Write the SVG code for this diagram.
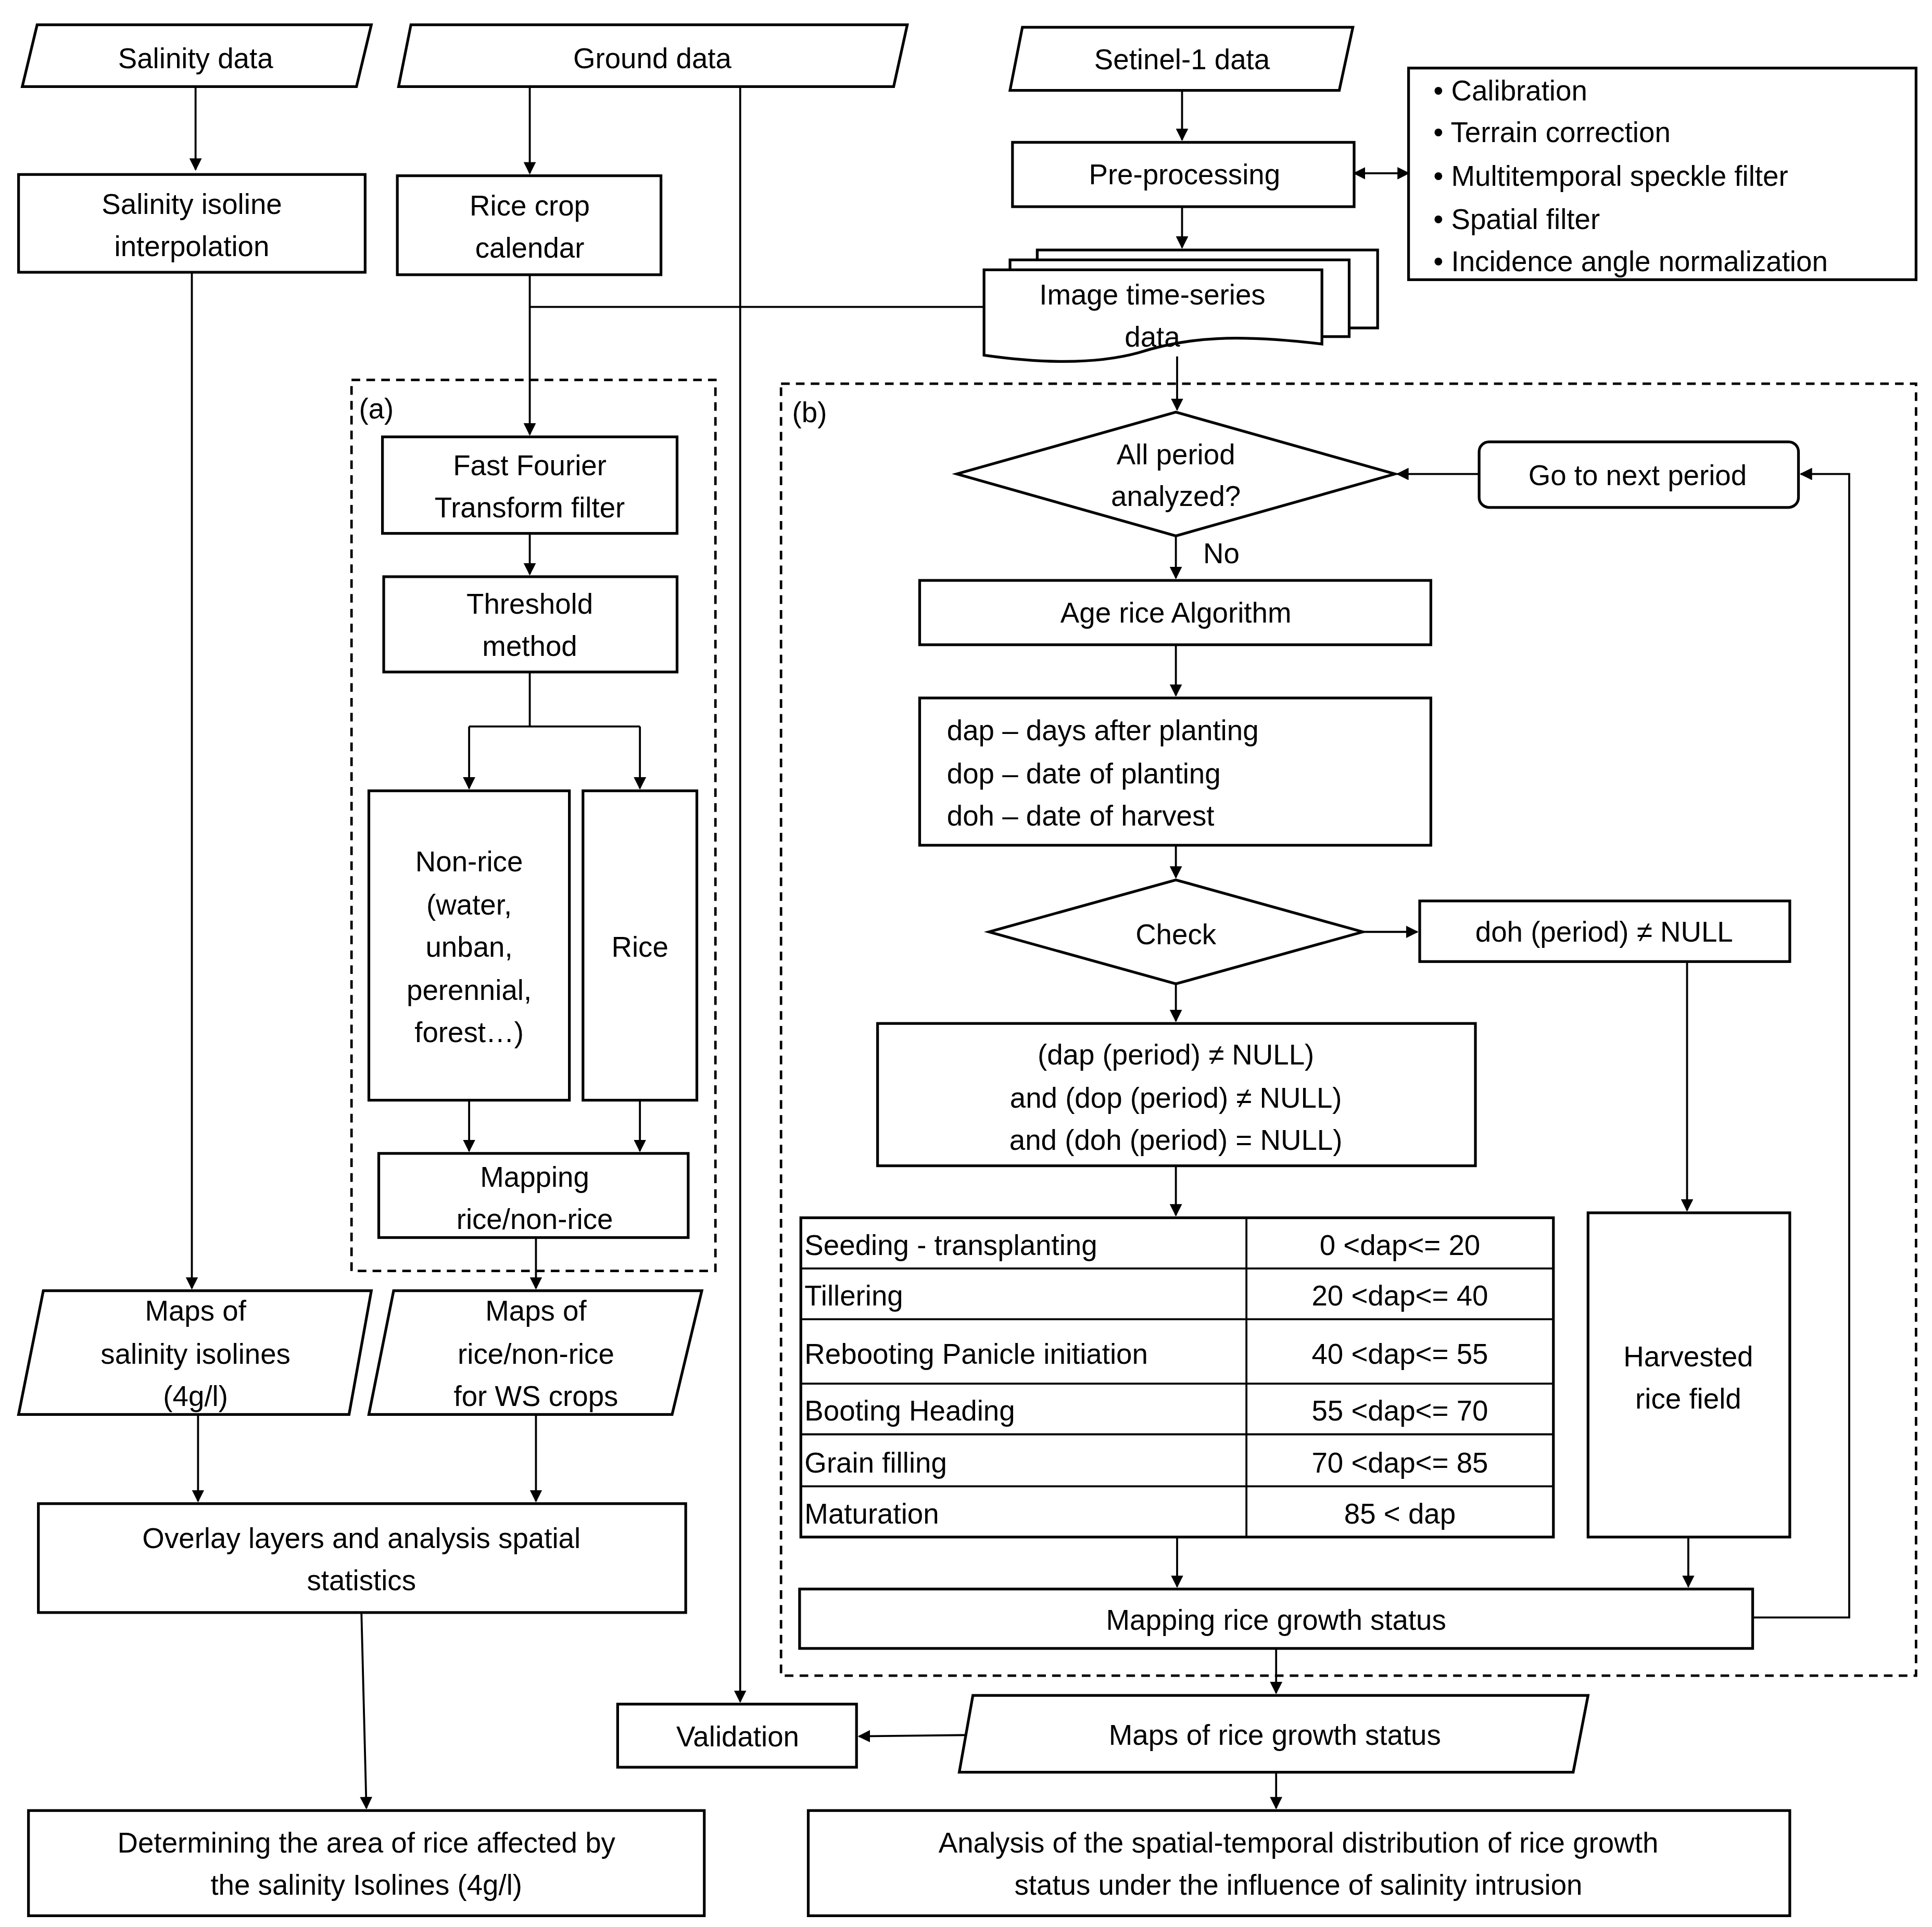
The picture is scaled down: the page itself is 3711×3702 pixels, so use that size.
<svg xmlns="http://www.w3.org/2000/svg" width="3711" height="3702" viewBox="0 0 3711 3702">
<defs>
<marker id="ah" markerWidth="10" markerHeight="10" refX="9" refY="5" orient="auto" markerUnits="userSpaceOnUse"><path d="M0,0 L10,5 L0,10 z" fill="#000"/></marker>
<marker id="ahs" markerWidth="10" markerHeight="10" refX="1" refY="5" orient="auto" markerUnits="userSpaceOnUse"><path d="M10,0 L0,5 L10,10 z" fill="#000"/></marker>
<style>
.s{fill:#fff;stroke:#000;stroke-width:2.2}
.d{fill:none;stroke:#000;stroke-width:2;stroke-dasharray:7,5}
.c{fill:none;stroke:#000;stroke-width:1.6}
.a{marker-end:url(#ah)}
text{font-family:"Liberation Sans",Arial,sans-serif;font-size:23px;fill:#000}
.m{text-anchor:middle}
</style>
</defs>
<rect width="3711" height="3702" fill="#fff"/>
<g transform="scale(2.3775)">
<g id="dashed">
<rect class="d" x="284" y="307" width="294" height="720"/><text x="290" y="338">(a)</text>
<rect class="d" x="631" y="310" width="917" height="1044"/><text x="640" y="341">(b)</text>
</g>
<g id="connectors">
<path class="c a" d="M158,70 V137"/>
<path class="c a" d="M428,70 V140"/>
<path class="c a" d="M598,70 V1375"/>
<path class="c a" d="M955,73 V113"/>
<path class="c" d="M1094,140 H1138" marker-start="url(#ahs)" marker-end="url(#ah)"/>
<path class="c a" d="M955,167 V200"/>
<path class="c" d="M428,248 H795"/>
<path class="c a" d="M428,222 V351"/>
<path class="c a" d="M428,431 V464"/>
<path class="c" d="M428,543 V587 M379,587 H517"/>
<path class="c a" d="M379,587 V637"/><path class="c a" d="M517,587 V637"/>
<path class="c a" d="M379,889 V930"/><path class="c a" d="M517,889 V930"/>
<path class="c a" d="M433,1000 V1041"/>
<path class="c a" d="M155,220 V1041"/>
<path class="c a" d="M160,1143 V1213"/><path class="c a" d="M433,1143 V1213"/>
<path class="c a" d="M292,1303 L296,1461"/>
<path class="c a" d="M951,288 V331"/>
<path class="c a" d="M1195,383 H1129"/>
<path class="c a" d="M1416,1307 H1494 V383 H1455"/>
<path class="c a" d="M950,433 V467"/>
<path class="c a" d="M950,521 V562"/>
<path class="c a" d="M950,683 V709"/>
<path class="c a" d="M1101,753 H1145"/>
<path class="c a" d="M1363,777 V978"/>
<path class="c a" d="M950,795 V825"/>
<path class="c a" d="M950,942 V982"/>
<path class="c a" d="M951,1242 V1282"/><path class="c a" d="M1364,1242 V1282"/>
<path class="c a" d="M1031,1332 V1368"/>
<path class="c a" d="M782,1402 L694,1403"/>
<path class="c a" d="M1031,1432 V1461"/>
</g>
<g id="salinity-data"><polygon class="s" points="30,20 300,20 288,70 18,70"/><text class="m" x="158" y="55">Salinity data</text></g>
<g id="ground-data"><polygon class="s" points="332,20 733,20 722,70 322,70"/><text class="m" x="527" y="55">Ground data</text></g>
<g id="sentinel"><polygon class="s" points="826,22 1093,22 1082,73 816,73"/><text class="m" x="955" y="56">Setinel-1 data</text></g>
<g id="bullets"><rect class="s" x="1138" y="55" width="410" height="171"/>
<text x="1158" y="81">• Calibration</text><text x="1158" y="115">• Terrain correction</text><text x="1158" y="150">• Multitemporal speckle filter</text><text x="1158" y="185">• Spatial filter</text><text x="1158" y="219">• Incidence angle normalization</text></g>
<g id="preprocessing"><rect class="s" x="818" y="115" width="276" height="52"/><text class="m" x="957" y="149">Pre-processing</text></g>
<g id="timeseries">
<rect class="s" x="838" y="202" width="275" height="63"/>
<rect class="s" x="816" y="210" width="274" height="62"/>
<path class="s" d="M795,218 H1068 V278 C1000,270 960,272 920,285 C880,296 830,292 795,287 Z"/>
<text class="m" x="931" y="246">Image time-series</text><text class="m" x="931" y="280">data</text></g>
<g id="isoline"><rect class="s" x="15" y="141" width="280" height="79"/><text class="m" x="155" y="173">Salinity isoline</text><text class="m" x="155" y="207">interpolation</text></g>
<g id="calendar"><rect class="s" x="321" y="142" width="213" height="80"/><text class="m" x="428" y="174">Rice crop</text><text class="m" x="428" y="208">calendar</text></g>
<g id="fft"><rect class="s" x="309" y="353" width="238" height="78"/><text class="m" x="428" y="384">Fast Fourier</text><text class="m" x="428" y="418">Transform filter</text></g>
<g id="threshold"><rect class="s" x="310" y="466" width="237" height="77"/><text class="m" x="428" y="496">Threshold</text><text class="m" x="428" y="530">method</text></g>
<g id="nonrice"><rect class="s" x="298" y="639" width="162" height="250"/>
<text class="m" x="379" y="704">Non-rice</text><text class="m" x="379" y="739">(water,</text><text class="m" x="379" y="773">unban,</text><text class="m" x="379" y="808">perennial,</text><text class="m" x="379" y="842">forest…)</text></g>
<g id="rice"><rect class="s" x="471" y="639" width="92" height="250"/><text class="m" x="517" y="773">Rice</text></g>
<g id="mapping-rn"><rect class="s" x="306" y="932" width="250" height="68"/><text class="m" x="432" y="959">Mapping</text><text class="m" x="432" y="993">rice/non-rice</text></g>
<g id="maps-sal"><polygon class="s" points="35,1043 300,1043 282,1143 15,1143"/><text class="m" x="158" y="1067">Maps of</text><text class="m" x="158" y="1102">salinity isolines</text><text class="m" x="158" y="1136">(4g/l)</text></g>
<g id="maps-rice"><polygon class="s" points="318,1043 567,1043 543,1143 298,1143"/><text class="m" x="433" y="1067">Maps of</text><text class="m" x="433" y="1102">rice/non-rice</text><text class="m" x="433" y="1136">for WS crops</text></g>
<g id="overlay"><rect class="s" x="31" y="1215" width="523" height="88"/><text class="m" x="292" y="1251">Overlay layers and analysis spatial</text><text class="m" x="292" y="1285">statistics</text></g>
<g id="determining"><rect class="s" x="23" y="1463" width="546" height="85"/><text class="m" x="296" y="1497">Determining the area of rice affected by</text><text class="m" x="296" y="1531">the salinity Isolines (4g/l)</text></g>
<g id="allperiod"><polygon class="s" points="773,383 950,333 1127,383 950,433"/><text class="m" x="950" y="375">All period</text><text class="m" x="950" y="409">analyzed?</text><text x="972" y="455">No</text></g>
<g id="nextperiod"><rect class="s" x="1195" y="357" width="258" height="53" rx="8"/><text class="m" x="1323" y="392">Go to next period</text></g>
<g id="age"><rect class="s" x="743" y="469" width="413" height="52"/><text class="m" x="950" y="503">Age rice Algorithm</text></g>
<g id="dap"><rect class="s" x="743" y="564" width="413" height="119"/><text x="765" y="598">dap – days after planting</text><text x="765" y="633">dop – date of planting</text><text x="765" y="667">doh – date of harvest</text></g>
<g id="check"><polygon class="s" points="799,753 950,711 1101,753 950,795"/><text class="m" x="950" y="763">Check</text></g>
<g id="doh"><rect class="s" x="1147" y="728" width="299" height="49"/><text class="m" x="1296" y="761">doh (period) ≠ NULL</text></g>
<g id="cond"><rect class="s" x="709" y="827" width="483" height="115"/><text class="m" x="950" y="860">(dap (period) ≠ NULL)</text><text class="m" x="950" y="895">and (dop (period) ≠ NULL)</text><text class="m" x="950" y="929">and (doh (period) = NULL)</text></g>
<g id="table"><rect class="s" x="647" y="984" width="608" height="258"/>
<path class="c" d="M1007,984 V1242 M647,1025 H1255 M647,1066 H1255 M647,1118 H1255 M647,1159 H1255 M647,1201 H1255"/>
<text x="650" y="1014">Seeding - transplanting</text><text class="m" x="1131" y="1014">0 &lt;dap&lt;= 20</text>
<text x="650" y="1055">Tillering</text><text class="m" x="1131" y="1055">20 &lt;dap&lt;= 40</text>
<text x="650" y="1102">Rebooting Panicle initiation</text><text class="m" x="1131" y="1102">40 &lt;dap&lt;= 55</text>
<text x="650" y="1148">Booting Heading</text><text class="m" x="1131" y="1148">55 &lt;dap&lt;= 70</text>
<text x="650" y="1190">Grain filling</text><text class="m" x="1131" y="1190">70 &lt;dap&lt;=  85</text>
<text x="650" y="1231">Maturation</text><text class="m" x="1131" y="1231">85 &lt; dap</text></g>
<g id="harvested"><rect class="s" x="1283" y="980" width="163" height="262"/><text class="m" x="1364" y="1104">Harvested</text><text class="m" x="1364" y="1138">rice field</text></g>
<g id="mapping-growth"><rect class="s" x="646" y="1284" width="770" height="48"/><text class="m" x="1031" y="1317">Mapping rice growth status</text></g>
<g id="maps-growth"><polygon class="s" points="786,1370 1283,1370 1271,1432 775,1432"/><text class="m" x="1030" y="1410">Maps of rice growth status</text></g>
<g id="validation"><rect class="s" x="499" y="1377" width="193" height="51"/><text class="m" x="596" y="1411">Validation</text></g>
<g id="analysis"><rect class="s" x="653" y="1463" width="793" height="85"/><text class="m" x="1049" y="1497">Analysis of the spatial-temporal distribution of rice growth</text><text class="m" x="1049" y="1531">status under the influence of salinity intrusion</text></g>
</g>
</svg>
